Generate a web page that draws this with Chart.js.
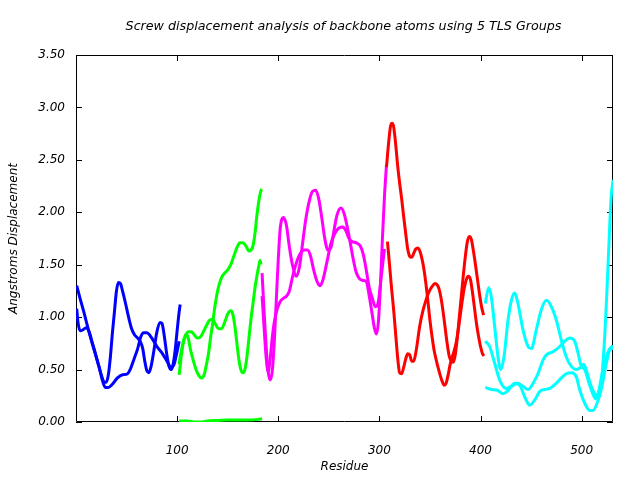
<!DOCTYPE html>
<html><head><meta charset="utf-8">
<script src="https://cdn.jsdelivr.net/npm/chart.js@4.4.1/dist/chart.umd.min.js"></script>
<style>html,body{margin:0;padding:0;background:#fff}canvas{display:block}</style>
</head><body>
<canvas id="c" width="640" height="480"></canvas>
<script>
const chartTitle = 'Screw displacement analysis of backbone atoms using 5 TLS Groups';
const xTitle = 'Residue';
const yTitle = 'Angstroms Displacement';
const xTickValues = [100, 200, 300, 400, 500];
const yTickValues = [0, 0.5, 1, 1.5, 2, 2.5, 3, 3.5];

// Group 1 (blue)
const blue1Res = [0.7,4,8,12,16,20,23,26,29,32,36,41,46,51,54,57,61,64,67,70,75,80,85,90,94,97,99,101,102];
const blue1Val = [1.30,1.18,1.04,0.89,0.75,0.62,0.52,0.40,0.33,0.33,0.36,0.42,0.45,0.46,0.51,0.59,0.70,0.81,0.85,0.85,0.80,0.72,0.66,0.58,0.52,0.55,0.63,0.72,0.77];
const blue2Res = [0.7,2,4,7,10,13,16,19,22,25,28,30,32,34,36,38,40,42,44,46,49,52,55,58,61,64,66,68,70,72,74,77,80,83,85,87,90,92,94,96,98,100,102,103];
const blue2Val = [1.08,0.95,0.87,0.88,0.90,0.86,0.76,0.66,0.55,0.45,0.38,0.38,0.45,0.62,0.85,1.05,1.25,1.33,1.32,1.25,1.13,1.00,0.89,0.83,0.80,0.76,0.70,0.58,0.49,0.47,0.52,0.68,0.86,0.95,0.94,0.84,0.63,0.53,0.50,0.55,0.68,0.87,1.05,1.12];

// Group 2 (green)
const green1Res = [102,104,106,108,111,114,117,120,123,126,129,132,135,138,141,144,147,150,153,155,157,159,161,163,165,167,169,171,173,175,177,179,181,182,183];
const green1Val = [0.45,0.62,0.75,0.81,0.86,0.86,0.83,0.80,0.81,0.86,0.92,0.97,0.98,0.93,0.89,0.89,0.95,1.03,1.06,1.03,0.92,0.76,0.60,0.50,0.47,0.50,0.62,0.80,0.98,1.13,1.28,1.40,1.50,1.54,1.50];
const green2Res = [102,103,105,107,109,111,113,115,118,121,124,127,129,131,133,135,137,139,141,144,147,150,153,156,159,162,165,168,171,173,175,177,179,181,183,184];
const green2Val = [0.55,0.62,0.72,0.80,0.84,0.80,0.70,0.62,0.52,0.45,0.42,0.46,0.55,0.65,0.80,0.93,1.08,1.20,1.29,1.38,1.42,1.45,1.50,1.58,1.66,1.71,1.71,1.68,1.63,1.64,1.68,1.80,1.98,2.12,2.21,2.22];
const green3Res = [102,110,118,124,130,140,150,160,170,180,184];
const green3Val = [0.01,0.01,0.0,0.0,0.01,0.015,0.02,0.02,0.02,0.025,0.03];

// Group 3 (magenta)
const magenta1Res = [184,186,188,190,192,194,196,198,200,202,205,208,211,214,218,221,224,227,231,234,237,240,243,246,249,252,255,258,262,265,268,271,274,277,280,284,287,290,293,295,297,299,301,303,305,307];
const magenta1Val = [1.42,1.05,0.72,0.48,0.40,0.48,0.75,1.15,1.55,1.85,1.95,1.88,1.67,1.50,1.39,1.48,1.70,1.92,2.12,2.20,2.21,2.13,1.95,1.75,1.64,1.66,1.82,1.97,2.04,1.99,1.87,1.72,1.56,1.43,1.37,1.35,1.34,1.20,1.02,0.90,0.84,0.95,1.30,1.75,2.15,2.45];
const magenta2Res = [184,186,188,190,192,194,196,199,202,205,208,211,214,218,222,226,229,232,235,238,241,244,248,252,256,260,264,267,270,273,277,281,284,287,290,293,296,299,302,305];
const magenta2Val = [1.20,0.90,0.62,0.48,0.60,0.80,0.95,1.08,1.15,1.18,1.20,1.25,1.38,1.52,1.61,1.64,1.64,1.58,1.45,1.35,1.30,1.35,1.52,1.70,1.80,1.85,1.86,1.82,1.75,1.72,1.71,1.68,1.60,1.45,1.28,1.18,1.10,1.15,1.40,1.65];

// Group 4 (red)
const red1Res = [307,309,311,312.5,314,316,318,320,322,324,326,328,330,332,334,336,338,340,342,344,346,348,350,352,354,356,358,360,362,364,366,368,370,372,374,376,378,380,382,384,386,388,390,392,394,396,398,400,402,403.5];
const red1Val = [2.43,2.65,2.82,2.85,2.82,2.66,2.45,2.28,2.13,1.96,1.80,1.65,1.58,1.57,1.61,1.65,1.66,1.63,1.56,1.46,1.32,1.15,0.97,0.82,0.69,0.60,0.52,0.45,0.39,0.35,0.37,0.45,0.55,0.62,0.68,0.76,0.88,1.02,1.16,1.28,1.36,1.39,1.36,1.24,1.09,0.94,0.82,0.72,0.65,0.63];
const red2Res = [308,310,312,314,316,318,320,322,324,326,328,330,332,334,336,340,343,346,349,352,355,357,359,361,363,365,367,369,371,373,375,377,379,381,383,385,387,389,391,393,395,397,399,401,403];
const red2Val = [1.72,1.50,1.28,1.08,0.85,0.62,0.47,0.46,0.52,0.60,0.65,0.64,0.58,0.58,0.66,0.92,1.06,1.16,1.24,1.29,1.32,1.31,1.27,1.18,1.05,0.90,0.75,0.63,0.58,0.57,0.64,0.80,1.00,1.20,1.40,1.58,1.72,1.77,1.74,1.63,1.50,1.36,1.22,1.10,1.02];

// Group 5 (cyan)
const cyan1Res = [404.7,408,410.7,414,417.3,420,423.2,427.2,430.5,433.8,437,442,447,450.2,455.2,460.1,465.1,470,475,479.9,484.8,489.8,494.7,499,502,505,509,513,516,519,521,523,525,527,529,531];
const cyan1Val = [1.13,1.28,1.19,0.91,0.62,0.50,0.62,0.97,1.16,1.23,1.13,0.88,0.72,0.70,0.88,1.07,1.16,1.10,0.97,0.78,0.62,0.53,0.50,0.52,0.55,0.48,0.35,0.27,0.26,0.34,0.55,0.85,1.25,1.70,2.12,2.31];
const cyan2Res = [404.7,409,414,419,425.5,430.5,437,442,447,452,456.8,461.8,465.1,471.7,478.3,483.2,488.2,493.1,496.4,499.7,503,507,511,514,517,520,524,528,531];
const cyan2Val = [0.77,0.72,0.56,0.40,0.32,0.34,0.37,0.34,0.31,0.37,0.46,0.59,0.64,0.67,0.72,0.77,0.80,0.77,0.66,0.53,0.50,0.38,0.27,0.22,0.30,0.45,0.60,0.70,0.70];
const cyan3Res = [404.7,410.7,417.3,422.2,427.2,433.8,438.8,443.7,448.6,453.6,458.5,463.5,468.4,475,479.9,484.8,489.8,494.7,498,503,508,511.2,514.5,519.4,524.4,527.7,531];
const cyan3Val = [0.33,0.31,0.30,0.27,0.30,0.37,0.35,0.24,0.16,0.21,0.29,0.31,0.32,0.37,0.42,0.46,0.47,0.43,0.31,0.18,0.11,0.11,0.16,0.31,0.56,0.69,0.73];

const curves = [
  [blue1Res, blue1Val, '#0000ff'], [blue2Res, blue2Val, '#0000ff'],
  [green1Res, green1Val, '#00ff00'], [green2Res, green2Val, '#00ff00'], [green3Res, green3Val, '#00ff00'],
  [magenta1Res, magenta1Val, '#ff00ff'], [magenta2Res, magenta2Val, '#ff00ff'],
  [red1Res, red1Val, '#ff0000'], [red2Res, red2Val, '#ff0000'],
  [cyan1Res, cyan1Val, '#00ffff'], [cyan2Res, cyan2Val, '#00ffff'], [cyan3Res, cyan3Val, '#00ffff']
];

const datasets = curves.map(([r, v, c], i) => ({
  data: r.map((x, k) => ({x: x, y: v[k]})),
  borderColor: c,
  backgroundColor: c,
  borderWidth: 3,
  pointRadius: 0,
  fill: false,
  cubicInterpolationMode: 'monotone',
  order: curves.length - i
}));

const fontFam = "'DejaVu Sans', sans-serif";
const italicFont = {family: fontFam, size: 12, style: 'italic', weight: 'normal'};

const frame = {
  id: 'frame',
  beforeDatasetsDraw(chart) {
    const {ctx, chartArea: a, scales} = chart;
    ctx.save();
    ctx.strokeStyle = '#000';
    ctx.lineWidth = 1;
    ctx.beginPath();
    ctx.rect(a.left + 0.5, a.top + 0.5, a.right - a.left - 1, a.bottom - a.top - 1);
    ctx.stroke();
    const L = 6;
    ctx.beginPath();
    xTickValues.forEach(v => {
      const px = Math.round(scales.x.getPixelForValue(v)) + 0.5;
      ctx.moveTo(px, a.bottom); ctx.lineTo(px, a.bottom - L);
      ctx.moveTo(px, a.top); ctx.lineTo(px, a.top + L);
    });
    yTickValues.forEach(v => {
      const py = Math.round(scales.y.getPixelForValue(v)) + 0.5;
      ctx.moveTo(a.left, py); ctx.lineTo(a.left + L, py);
      ctx.moveTo(a.right, py); ctx.lineTo(a.right - L, py);
    });
    ctx.stroke();
    ctx.restore();
  },
  afterDraw(chart) {
    const {ctx, chartArea: a} = chart;
    ctx.save();
    ctx.fillStyle = '#000';
    ctx.font = "italic 12.7px 'DejaVu Sans', sans-serif";
    ctx.textAlign = 'center';
    ctx.textBaseline = 'middle';
    ctx.fillText(chartTitle, (a.left + a.right) / 2 - 1, 27);
    ctx.restore();
  }
};

new Chart(document.getElementById('c'), {
  type: 'line',
  data: {datasets},
  plugins: [frame],
  options: {
    responsive: false,
    animation: false,
    events: [],
    layout: {padding: {left: 0, right: 27, top: 55, bottom: 0}},
    plugins: {
      legend: {display: false},
      tooltip: {enabled: false},
      title: {display: false}
    },
    scales: {
      x: {
        type: 'linear', min: 0, max: 531,
        grid: {display: false, drawTicks: false},
        border: {display: false},
        afterBuildTicks(s) { s.ticks = xTickValues.map(v => ({value: v})); },
        ticks: {
          color: '#000', font: italicFont, padding: 22, maxRotation: 0, autoSkip: false,
          callback: v => String(v)
        },
        title: {display: true, text: xTitle, color: '#000', font: italicFont, padding: {top: 0, bottom: 6}},
        afterFit(s) { s.height = 58; }
      },
      y: {
        type: 'linear', min: 0, max: 3.5,
        grid: {display: false, drawTicks: false},
        border: {display: false},
        afterBuildTicks(s) { s.ticks = yTickValues.map(v => ({value: v})); },
        ticks: {
          color: '#000', font: italicFont, padding: 11, autoSkip: false,
          callback: v => Number(v).toFixed(2)
        },
        title: {display: true, text: yTitle, color: '#000', font: italicFont, padding: {top: 7, bottom: 0}},
        afterFit(s) { s.width = 76; }
      }
    }
  }
});
</script>
</body></html>
